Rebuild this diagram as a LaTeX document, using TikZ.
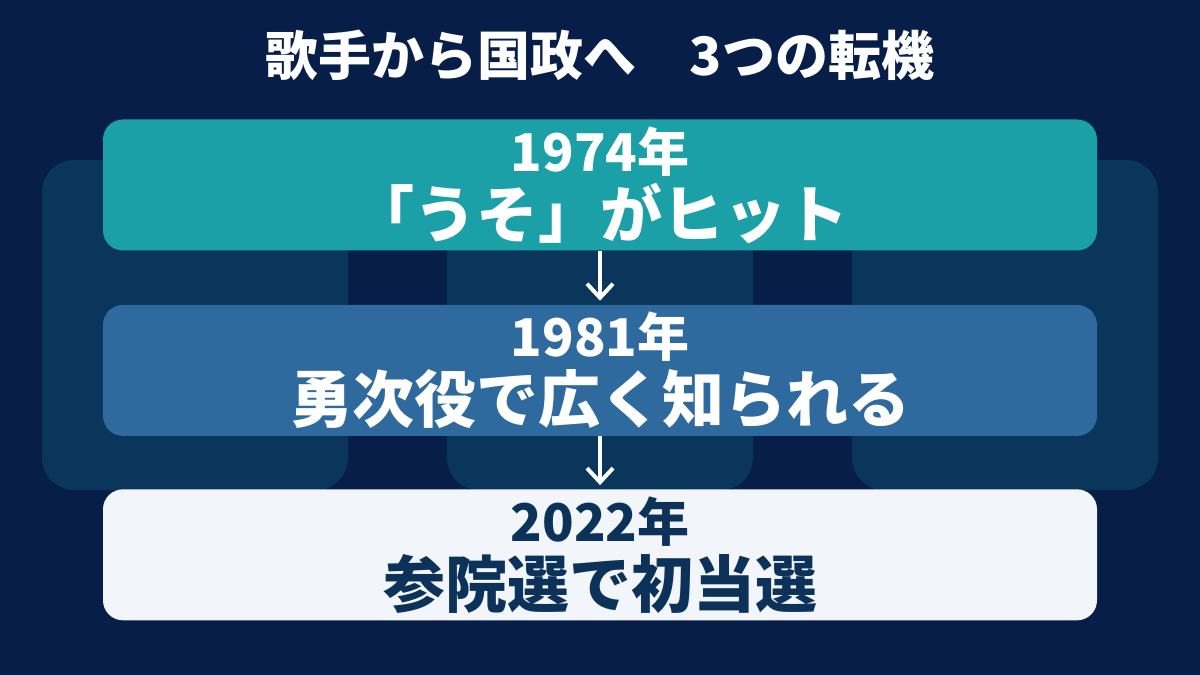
\documentclass[tikz,border=0pt]{standalone}
\usepackage{fontspec}
\setmainfont{Noto Sans CJK JP}
\usetikzlibrary{arrows.meta,positioning}

\definecolor{bgnavy}{HTML}{061E48}
\definecolor{ghostblue}{HTML}{09365A}
\definecolor{tealbar}{HTML}{1BA0A8}
\definecolor{bluebar}{HTML}{2E6A9E}
\definecolor{paper}{HTML}{F2F6FA}
\definecolor{inknavy}{HTML}{0D3259}

\tikzset{
  ghost/.style={fill=ghostblue, rounded corners=32pt, minimum width=306pt, minimum height=330pt},
  stage/.style={rounded corners=20pt, minimum width=994pt, minimum height=131pt, inner sep=0pt,
    align=center, font=\bfseries\fontsize{62}{66}\selectfont},
}
\newcommand{\yeartext}[1]{{\fontsize{52}{52}\selectfont #1}}

\begin{document}
\begin{tikzpicture}[x=1pt,y=1pt,>={Straight Barb[length=14pt,width=26pt]}]
\fill[bgnavy] (0,0) rectangle (1200,675);
\useasboundingbox (0,0) rectangle (1200,675);

% cards in the back
\node[ghost] (g1) at (195,350) {};
\node[ghost] (g2) at (600,350) {};
\node[ghost] (g3) at (1005,350) {};

\node[font=\bfseries\fontsize{53}{53}\selectfont, text=white] (title) at (600,620) {歌手から国政へ　3つの転機};

% the three turning points
\node[stage, fill=tealbar, text=white]                    (hit)   at (600,490) {\yeartext{1974年}\\「うそ」がヒット};
\node[stage, fill=bluebar, text=white, below=54pt of hit]  (role)  {\yeartext{1981年}\\勇次役で広く知られる};
\node[stage, fill=paper, text=inknavy, below=53pt of role] (elect) {\yeartext{2022年}\\参院選で初当選};

\draw[->, white, line width=4pt, shorten >=4pt] (hit) -- (role);
\draw[->, white, line width=4pt, shorten >=4pt] (role) -- (elect);
\end{tikzpicture}
\end{document}
